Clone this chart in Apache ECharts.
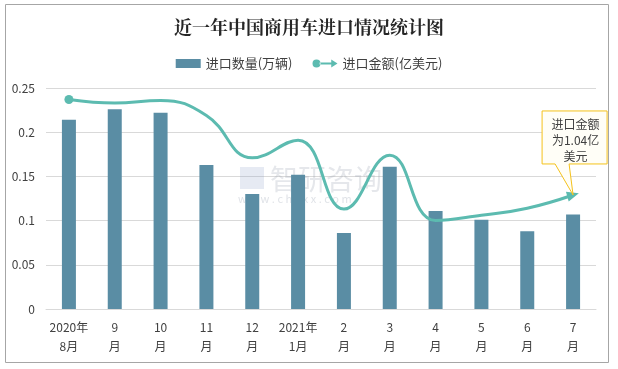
<!DOCTYPE html>
<html>
<head>
<meta charset="utf-8">
<script src="https://cdn.jsdelivr.net/npm/echarts@6/dist/echarts.min.js"></script>
<style>
html,body{margin:0;padding:0;background:#fff;}
#c{width:618px;height:369px;}
</style>
</head>
<body>
<div id="c"></div>
<script>
var categories = ['2020年\n8月','9\n月','10\n月','11\n月','12\n月','2021年\n1月','2\n月','3\n月','4\n月','5\n月','6\n月','7\n月'];
var barValues = [0.214,0.226,0.222,0.163,0.130,0.152,0.086,0.161,0.111,0.101,0.088,0.107];
var lineValues = [0.237,0.233,0.236,0.219,0.171,0.191,0.113,0.174,0.100,0.106,0.114,0.129];
var yTicks = ['0','0.05','0.1','0.15','0.2','0.25'];
var barName = '进口数量(万辆)';
var lineName = '进口金额(亿美元)';
var titleText = '近一年中国商用车进口情况统计图';
var calloutLines = ['进口金额','为1.04亿','美元'];

var FONT = '"Microsoft YaHei","Noto Sans CJK SC","Noto Sans",sans-serif';
var chart = echarts.init(document.getElementById('c'), null, {renderer:'canvas'});

var lineData = lineValues.map(function(v,i){
  if(i===0) return {value:v, symbol:'circle', symbolSize:9};
  if(i===lineValues.length-1) return {value:v, symbol:'triangle', symbolSize:[10,12], symbolRotate:-74};
  return {value:v, symbol:'none'};
});

var option = {
  animation:false,
  backgroundColor:'#fff',
  title:{text:titleText,left:'center',top:13,textStyle:{fontFamily:'"Noto Serif CJK SC","Noto Sans CJK SC",serif',fontSize:18,fontWeight:'bold',color:'#262626'}},
  legend:{
    top:52,left:'center',itemGap:20,itemWidth:25,itemHeight:9,
    textStyle:{fontFamily:FONT,fontSize:13,color:'#404040'},
    data:[
      {name:barName,icon:'rect'},
      {name:lineName,icon:'path://M0,5 a4.5,4.5 0 1,0 9,0 a4.5,4.5 0 1,0 -9,0 Z M8,3.8 L21,3.8 L21,0.5 L28,5 L21,9.5 L21,6.2 L8,6.2 Z'}
    ]
  },
  grid:{left:46,right:22,top:88,bottom:60},
  xAxis:{
    type:'category',data:categories,
    axisLine:{lineStyle:{color:'#d9d9d9'}},
    axisTick:{show:false},
    axisLabel:{fontFamily:FONT,fontSize:12,color:'#404040',lineHeight:19,margin:9,interval:0}
  },
  yAxis:{
    type:'value',min:0,max:0.25,interval:0.05,
    axisLine:{show:false},axisTick:{show:false},
    splitLine:{lineStyle:{color:'#d9d9d9'}},
    axisLabel:{fontFamily:FONT,fontSize:12,color:'#404040',margin:11,
      formatter:function(v){var i=Math.round(v/0.05);return yTicks[i];}}
  },
  series:[
    {name:barName,type:'bar',data:barValues,barWidth:14,itemStyle:{color:'#5a8da4'}},
    {name:lineName,type:'line',data:lineData,smooth:0.45,showSymbol:true,
      lineStyle:{color:'#5cbbb0',width:3},itemStyle:{color:'#5cbbb0'},z:5}
  ]
};
chart.setOption(option);

// callout annotation anchored to last line point via the library's scales
var last = lineValues.length-1;
var p = chart.convertToPixel({seriesIndex:1},[last,lineValues[last]]);
var bx = p[0]-31, by = p[1]-84, bw = 65, bh = 53;
var graphics = [
  {type:'polygon',z:10,shape:{points:[[bx,by],[bx+bw,by],[bx+bw,by+bh],[p[0]-4,by+bh],[p[0],p[1]],[p[0]-18,by+bh],[bx,by+bh]]},
   style:{fill:'#fffef7',stroke:'#f5c21b',lineWidth:1}},
  {type:'text',z:11,style:{x:bx+bw/2+1,y:by+5,text:calloutLines.join('\n'),align:'center',verticalAlign:'top',
    font:'12px '+FONT,fill:'#404040',lineHeight:16}},
  {type:'rect',z:0,shape:{x:5.5,y:4.5,width:603,height:358},style:{fill:'none',stroke:'#a6a6a6',lineWidth:1}},
  {type:'text',z:1,style:{x:270,y:165,text:'智研咨询',font:'28px '+FONT,fill:'rgba(150,160,175,0.25)'}},
  {type:'text',z:1,style:{x:238,y:193,text:'w w w . c h y x x . c o m',font:'11px '+FONT,fill:'rgba(150,160,175,0.3)'}},
  {type:'rect',z:1,shape:{x:240,y:167,width:24,height:22},style:{fill:'rgba(140,160,200,0.22)'}}
];
chart.setOption({graphic:graphics});
</script>
</body>
</html>
